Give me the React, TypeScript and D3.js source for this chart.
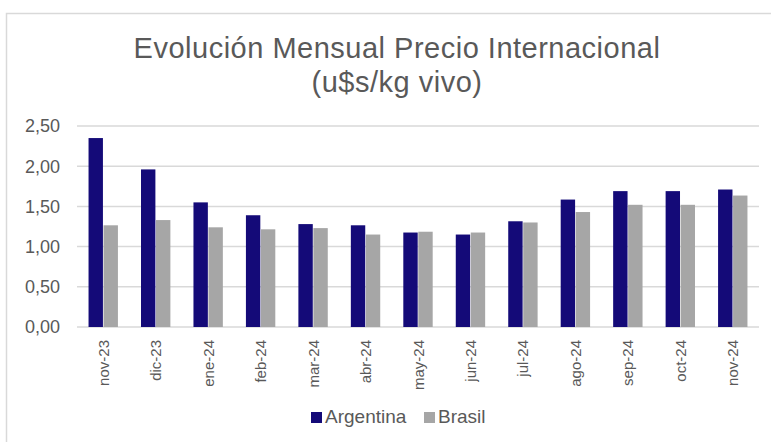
import { useEffect, useRef } from "react";
import * as d3 from "d3";

const months = ["nov-23", "dic-23", "ene-24", "feb-24", "mar-24", "abr-24", "may-24", "jun-24", "jul-24", "ago-24", "sep-24", "oct-24", "nov-24"];
const argentina = [2.35, 1.96, 1.55, 1.39, 1.28, 1.265, 1.175, 1.15, 1.315, 1.585, 1.69, 1.69, 1.71];
const brasil = [1.265, 1.33, 1.24, 1.215, 1.23, 1.15, 1.185, 1.175, 1.3, 1.43, 1.52, 1.52, 1.635];
const yTicks = [0, 0.5, 1, 1.5, 2, 2.5];
const seriesNames = ["Argentina", "Brasil"];
const seriesColors = ["#140A78", "#A6A6A6"];

const App = () => {
  const ref = useRef<SVGSVGElement>(null);

  useEffect(() => {
    const svg = d3.select(ref.current);
    svg.selectAll("*").remove();

    const WIDTH = 771;
    const HEIGHT = 442;
    const PLOT = { LEFT: 77, RIGHT: 759, TOP: 126, BOTTOM: 327 };
    const textColor = "#595959";
    const font = "'Liberation Sans', Arial, sans-serif";

    // chart frame
    svg.append("rect")
      .attr("x", 6.5).attr("y", 13.5)
      .attr("width", WIDTH + 20).attr("height", HEIGHT + 20)
      .attr("fill", "white")
      .attr("stroke", "#D9D9D9")
      .attr("stroke-width", 1.5);

    // title
    const title = svg.append("text")
      .attr("text-anchor", "middle")
      .attr("fill", textColor)
      .attr("font-family", font)
      .attr("font-size", 29)
      .attr("letter-spacing", 0.5);
    title.append("tspan").attr("x", 397).attr("y", 58).text("Evolución Mensual Precio Internacional");
    title.append("tspan").attr("x", 397).attr("y", 92).text("(u$s/kg vivo)");

    const x = d3.scaleBand<string>()
      .domain(months)
      .range([PLOT.LEFT, PLOT.RIGHT])
      .paddingInner(0.44)
      .paddingOuter(0.22);

    const xSub = d3.scaleBand<string>()
      .domain(seriesNames)
      .range([0, x.bandwidth()])
      .paddingInner(0.04);

    const y = d3.scaleLinear().domain([0, 2.5]).range([PLOT.BOTTOM, PLOT.TOP]);

    // gridlines
    svg.append("g")
      .selectAll("line")
      .data(yTicks)
      .join("line")
      .attr("x1", PLOT.LEFT).attr("x2", PLOT.RIGHT)
      .attr("y1", d => y(d)).attr("y2", d => y(d))
      .attr("stroke", "#D9D9D9")
      .attr("stroke-width", 1.5);

    // y labels
    svg.append("g")
      .selectAll("text")
      .data(yTicks)
      .join("text")
      .attr("x", 60)
      .attr("y", d => y(d))
      .attr("dy", "0.36em")
      .attr("text-anchor", "end")
      .attr("fill", textColor)
      .attr("font-family", font)
      .attr("font-size", 18)
      .text(d => d3.format(".2f")(d).replace(".", ","));

    // bars
    const data = months.map((m, i) => ({ month: m, values: [argentina[i], brasil[i]] }));
    const groups = svg.append("g")
      .selectAll("g")
      .data(data)
      .join("g")
      .attr("transform", d => `translate(${x(d.month)}, 0)`);

    groups.selectAll("rect")
      .data(d => d.values.map((v, k) => ({ name: seriesNames[k], value: v, color: seriesColors[k] })))
      .join("rect")
      .attr("x", d => xSub(d.name)!)
      .attr("width", xSub.bandwidth())
      .attr("y", d => y(d.value))
      .attr("height", d => y(0) - y(d.value))
      .attr("fill", d => d.color);

    // x labels, rotated
    svg.append("g")
      .selectAll("text")
      .data(months)
      .join("text")
      .attr("transform", d => `translate(${x(d)! + x.bandwidth() / 2 + 5.5}, 340) rotate(-90)`)
      .attr("text-anchor", "end")
      .attr("fill", textColor)
      .attr("font-family", font)
      .attr("font-size", 15)
      .text(d => d);

    // legend
    const legendItems = [
      { name: seriesNames[0], color: seriesColors[0], x: 311 },
      { name: seriesNames[1], color: seriesColors[1], x: 424 },
    ];
    const legend = svg.append("g")
      .selectAll("g")
      .data(legendItems)
      .join("g")
      .attr("transform", d => `translate(${d.x}, 0)`);
    legend.append("rect")
      .attr("x", 0).attr("y", 412)
      .attr("width", 11).attr("height", 11)
      .attr("fill", d => d.color);
    legend.append("text")
      .attr("x", 14).attr("y", 423)
      .attr("fill", textColor)
      .attr("font-family", font)
      .attr("font-size", 19)
      .text(d => d.name);
  }, []);

  return (
    <div style={{ position: "absolute", left: 0, top: 0 }}>
      <svg ref={ref} width={771} height={442} style={{ display: "block" }} />
    </div>
  );
};

export default App;
